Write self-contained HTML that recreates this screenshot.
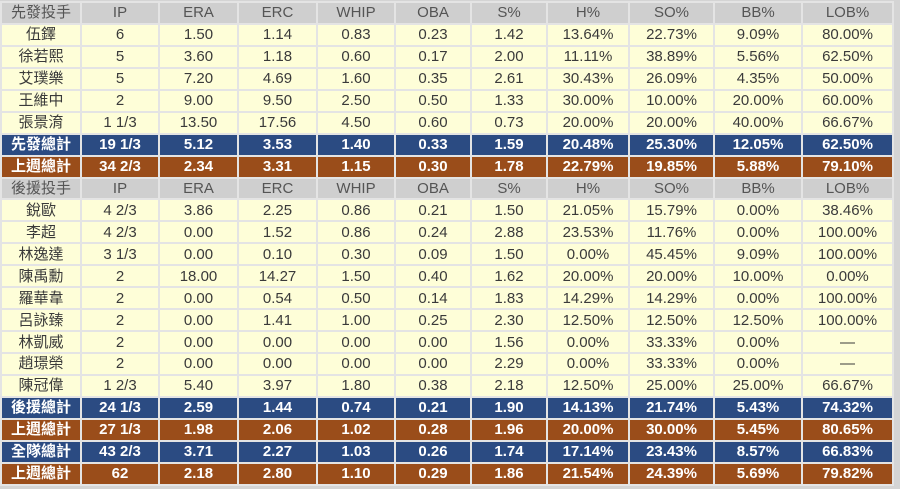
<!DOCTYPE html>
<html><head><meta charset="utf-8"><style>
html,body{margin:0;padding:0;background:#d4d4d4;width:900px;height:489px;overflow:hidden}
table{position:absolute;left:0;top:1px;border-collapse:collapse;table-layout:fixed;width:892px;font-family:"Liberation Sans","Noto Sans CJK TC",sans-serif;font-size:15px;color:#3a3a3a}
tr{height:21.95px}
td{border:2px solid #e4e4e4;padding:0;text-align:center;line-height:17px;white-space:nowrap;background:#fefed8}
tr.h td{background:#cfcfcf;color:#555}
tr.b td{background:#2b4b82;color:#fff;font-weight:bold}
tr.r td{background:#9a4d1a;color:#fff;font-weight:bold}
</style></head><body>
<table>
<colgroup><col style="width:80px"><col style="width:78px"><col style="width:79px"><col style="width:79px"><col style="width:78px"><col style="width:76px"><col style="width:76px"><col style="width:82px"><col style="width:85px"><col style="width:88px"><col style="width:91px"></colgroup>
<tr class="h"><td>先發投手</td><td>IP</td><td>ERA</td><td>ERC</td><td>WHIP</td><td>OBA</td><td>S%</td><td>H%</td><td>SO%</td><td>BB%</td><td>LOB%</td></tr>
<tr><td>伍鐸</td><td>6</td><td>1.50</td><td>1.14</td><td>0.83</td><td>0.23</td><td>1.42</td><td>13.64%</td><td>22.73%</td><td>9.09%</td><td>80.00%</td></tr>
<tr><td>徐若熙</td><td>5</td><td>3.60</td><td>1.18</td><td>0.60</td><td>0.17</td><td>2.00</td><td>11.11%</td><td>38.89%</td><td>5.56%</td><td>62.50%</td></tr>
<tr><td>艾璞樂</td><td>5</td><td>7.20</td><td>4.69</td><td>1.60</td><td>0.35</td><td>2.61</td><td>30.43%</td><td>26.09%</td><td>4.35%</td><td>50.00%</td></tr>
<tr><td>王維中</td><td>2</td><td>9.00</td><td>9.50</td><td>2.50</td><td>0.50</td><td>1.33</td><td>30.00%</td><td>10.00%</td><td>20.00%</td><td>60.00%</td></tr>
<tr><td>張景淯</td><td>1 1/3</td><td>13.50</td><td>17.56</td><td>4.50</td><td>0.60</td><td>0.73</td><td>20.00%</td><td>20.00%</td><td>40.00%</td><td>66.67%</td></tr>
<tr class="b"><td>先發總計</td><td>19 1/3</td><td>5.12</td><td>3.53</td><td>1.40</td><td>0.33</td><td>1.59</td><td>20.48%</td><td>25.30%</td><td>12.05%</td><td>62.50%</td></tr>
<tr class="r"><td>上週總計</td><td>34 2/3</td><td>2.34</td><td>3.31</td><td>1.15</td><td>0.30</td><td>1.78</td><td>22.79%</td><td>19.85%</td><td>5.88%</td><td>79.10%</td></tr>
<tr class="h"><td>後援投手</td><td>IP</td><td>ERA</td><td>ERC</td><td>WHIP</td><td>OBA</td><td>S%</td><td>H%</td><td>SO%</td><td>BB%</td><td>LOB%</td></tr>
<tr><td>銳歐</td><td>4 2/3</td><td>3.86</td><td>2.25</td><td>0.86</td><td>0.21</td><td>1.50</td><td>21.05%</td><td>15.79%</td><td>0.00%</td><td>38.46%</td></tr>
<tr><td>李超</td><td>4 2/3</td><td>0.00</td><td>1.52</td><td>0.86</td><td>0.24</td><td>2.88</td><td>23.53%</td><td>11.76%</td><td>0.00%</td><td>100.00%</td></tr>
<tr><td>林逸達</td><td>3 1/3</td><td>0.00</td><td>0.10</td><td>0.30</td><td>0.09</td><td>1.50</td><td>0.00%</td><td>45.45%</td><td>9.09%</td><td>100.00%</td></tr>
<tr><td>陳禹勳</td><td>2</td><td>18.00</td><td>14.27</td><td>1.50</td><td>0.40</td><td>1.62</td><td>20.00%</td><td>20.00%</td><td>10.00%</td><td>0.00%</td></tr>
<tr><td>羅華韋</td><td>2</td><td>0.00</td><td>0.54</td><td>0.50</td><td>0.14</td><td>1.83</td><td>14.29%</td><td>14.29%</td><td>0.00%</td><td>100.00%</td></tr>
<tr><td>呂詠臻</td><td>2</td><td>0.00</td><td>1.41</td><td>1.00</td><td>0.25</td><td>2.30</td><td>12.50%</td><td>12.50%</td><td>12.50%</td><td>100.00%</td></tr>
<tr><td>林凱威</td><td>2</td><td>0.00</td><td>0.00</td><td>0.00</td><td>0.00</td><td>1.56</td><td>0.00%</td><td>33.33%</td><td>0.00%</td><td>—</td></tr>
<tr><td>趙璟榮</td><td>2</td><td>0.00</td><td>0.00</td><td>0.00</td><td>0.00</td><td>2.29</td><td>0.00%</td><td>33.33%</td><td>0.00%</td><td>—</td></tr>
<tr><td>陳冠偉</td><td>1 2/3</td><td>5.40</td><td>3.97</td><td>1.80</td><td>0.38</td><td>2.18</td><td>12.50%</td><td>25.00%</td><td>25.00%</td><td>66.67%</td></tr>
<tr class="b"><td>後援總計</td><td>24 1/3</td><td>2.59</td><td>1.44</td><td>0.74</td><td>0.21</td><td>1.90</td><td>14.13%</td><td>21.74%</td><td>5.43%</td><td>74.32%</td></tr>
<tr class="r"><td>上週總計</td><td>27 1/3</td><td>1.98</td><td>2.06</td><td>1.02</td><td>0.28</td><td>1.96</td><td>20.00%</td><td>30.00%</td><td>5.45%</td><td>80.65%</td></tr>
<tr class="b"><td>全隊總計</td><td>43 2/3</td><td>3.71</td><td>2.27</td><td>1.03</td><td>0.26</td><td>1.74</td><td>17.14%</td><td>23.43%</td><td>8.57%</td><td>66.83%</td></tr>
<tr class="r"><td>上週總計</td><td>62</td><td>2.18</td><td>2.80</td><td>1.10</td><td>0.29</td><td>1.86</td><td>21.54%</td><td>24.39%</td><td>5.69%</td><td>79.82%</td></tr>
</table>
</body></html>
